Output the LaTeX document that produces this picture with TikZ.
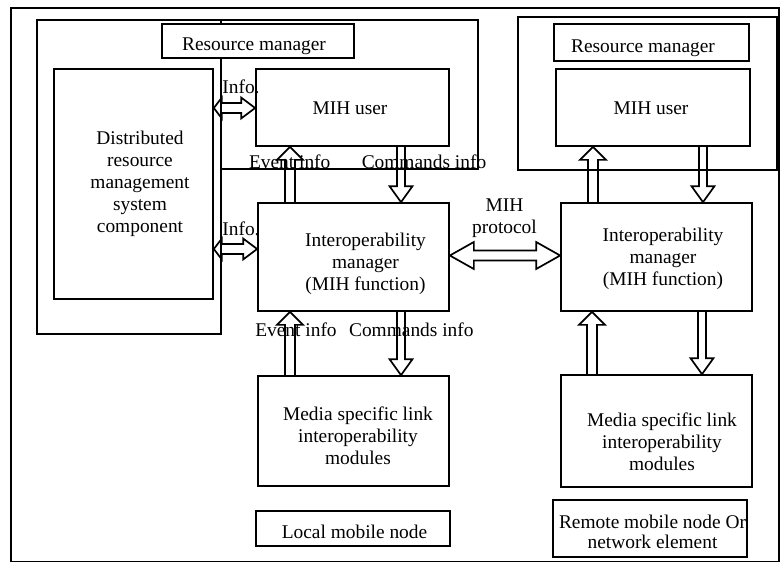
\documentclass[tikz,border=0pt]{standalone}
\usepackage{fontspec}
\setmainfont{Liberation Serif}
\usetikzlibrary{calc}
\tikzset{
  box/.style={draw, line width=1.7pt, inner sep=0pt, fill=white},
  lbl/.style={font=\fontsize{19.4}{22}\selectfont, align=center, inner sep=0pt},
  frame/.style={line width=1.7pt},
  blk/.style={line width=1.7pt, line join=miter}
}
\newcommand{\blkup}[3]{%
  \draw[blk] let \p1=(#1.north), \p2=(#2.south) in
  ({#3pt-5pt},\y1) -- ({#3pt-5pt},{\y2-13pt}) -- ({#3pt-13pt},{\y2-13pt}) -- ({#3pt},\y2)
  -- ({#3pt+13pt},{\y2-13pt}) -- ({#3pt+5pt},{\y2-13pt}) -- ({#3pt+5pt},\y1);}
\newcommand{\blkdown}[3]{%
  \draw[blk] let \p1=(#1.south), \p2=(#2.north) in
  ({#3pt-4pt},\y1) -- ({#3pt-4pt},{\y2+16pt}) -- ({#3pt-11.5pt},{\y2+16pt}) -- ({#3pt},\y2)
  -- ({#3pt+11.5pt},{\y2+16pt}) -- ({#3pt+4pt},{\y2+16pt}) -- ({#3pt+4pt},\y1);}
\newcommand{\blkboth}[7]{%
  \draw[blk] let \p1=(#1.east), \p2=(#2.west) in
  (\x1,-#3pt) -- ({\x1+#4pt},{-#3pt+#6pt}) -- ({\x1+#4pt},{-#3pt+#7pt})
  -- ({\x2-#5pt},{-#3pt+#7pt}) -- ({\x2-#5pt},{-#3pt+#6pt}) -- (\x2,-#3pt)
  -- ({\x2-#5pt},{-#3pt-#6pt}) -- ({\x2-#5pt},{-#3pt-#7pt})
  -- ({\x1+#4pt},{-#3pt-#7pt}) -- ({\x1+#4pt},{-#3pt-#6pt}) -- cycle;}
\begin{document}
\begin{tikzpicture}[x=1pt,y=-1pt]
\useasboundingbox (0,0) rectangle (780,563);
% outer frame
\draw[frame] (11,8) rectangle (778.8,561.5);
% local container
\draw[frame] (37,20) -- (478,20) -- (478,169) -- (221,169) -- (221,334) -- (37,334) -- cycle;
\draw[frame] (221,20) -- (221,169);
% remote container
\draw[frame] (518,17) rectangle (777,170);
% boxes
\node[box, minimum width=192pt, minimum height=34pt] (rmL) at (258,41) {};
\node[box, minimum width=195pt, minimum height=37pt] (rmR) at (651.5,42.5) {};
\node[box, minimum width=159pt, minimum height=230pt] (dist) at (133.5,184) {};
\node[box, minimum width=193pt, minimum height=77pt] (mihL) at (352.5,107.5) {};
\node[box, minimum width=194pt, minimum height=77pt] (mihR) at (653,107.5) {};
\node[box, minimum width=191pt, minimum height=108pt] (imL) at (353.5,257) {};
\node[box, minimum width=191pt, minimum height=108pt] (imR) at (656.5,257) {};
\node[box, minimum width=191pt, minimum height=110pt] (medL) at (353.5,431) {};
\node[box, minimum width=191pt, minimum height=112pt] (medR) at (656.5,431) {};
\node[box, minimum width=194pt, minimum height=35pt] (locL) at (353,528.5) {};
\node[box, minimum width=194pt, minimum height=57pt] (remR) at (650,528.5) {};
% arrows
\blkup{imL}{mihL}{290}
\blkdown{mihL}{imL}{401}
\blkup{medL}{imL}{290}
\blkdown{imL}{medL}{401}
\blkup{imR}{mihR}{593}
\blkdown{mihR}{imR}{703}
\blkup{medR}{imR}{592}
\blkdown{imR}{medR}{702}
\blkboth{dist}{mihL}{108}{8}{14}{10.5}{5}
\blkboth{dist}{imL}{249}{8}{14}{10.5}{5}
\blkboth{imL}{imR}{255.5}{24}{24}{13.5}{5}
% texts
\node[lbl] (trmL) at (254,46) {Resource manager};
\node[lbl] (trmR) at (643,48.5) {Resource manager};
\node[lbl] (tmihL) at (350,108.5) {MIH user};
\node[lbl] (tmihR) at (651,108.5) {MIH user};
\node[lbl] (tdist) at (140,183.5) {Distributed\\resource\\management\\system\\component};
\node[lbl] (timL) at (365.5,264) {Interoperability\\manager\\(MIH function)};
\node[lbl] (timR) at (663,258.8) {Interoperability\\manager\\(MIH function)};
\node[lbl] (tmedL) at (358,435.5) {Media specific link\\interoperability\\modules};
\node[lbl] (tmedR) at (662,441.5) {Media specific link\\interoperability\\modules};
\node[lbl] (tloc) at (354.5,532) {Local mobile node};
\node[lbl, font=\fontsize{19.4}{20}\selectfont] (trem) at (652.5,532) {Remote mobile node Or\\network element};
\node[lbl] (tev1) at (289.7,162.2) {Event info};
\node[lbl] (tcmd1) at (424,161.5) {Commands info};
\node[lbl] (tev2) at (296,329.5) {Event info};
\node[lbl] (tcmd2) at (411.3,329.5) {Commands info};
\node[lbl] (tinfo1) at (241,87) {Info.};
\node[lbl] (tinfo2) at (241,229) {Info.};
\node[lbl] (tmihp) at (504.5,218) {MIH\\protocol};
\end{tikzpicture}
\end{document}
